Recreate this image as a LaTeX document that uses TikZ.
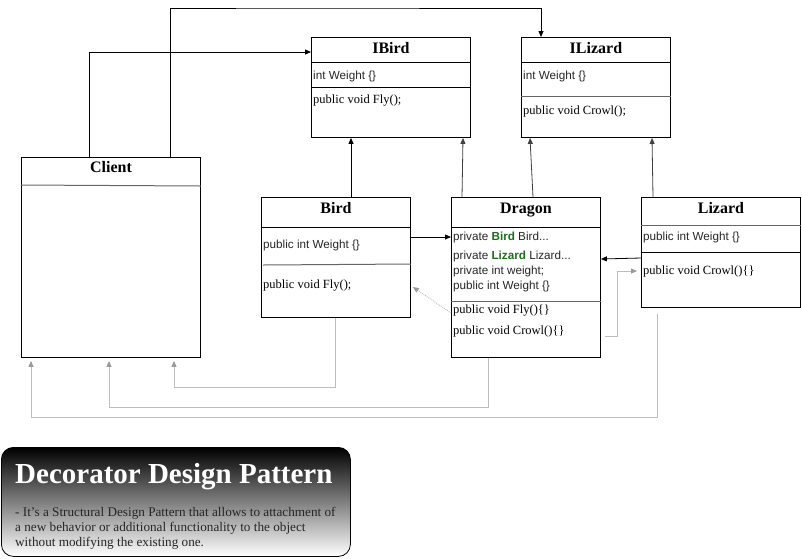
\documentclass[tikz,border=0pt]{standalone}
\usepackage{fontspec}
\setmainfont{Liberation Serif}
\newfontfamily\sansf{Liberation Sans}
\usetikzlibrary{arrows.meta,calc}
\definecolor{dgreen}{HTML}{1B6E1B}
\definecolor{lgray}{HTML}{BDBDBD}
\definecolor{agray}{HTML}{9A9A9A}
\begin{document}
\begin{tikzpicture}[x=1pt,y=-1pt,
  cls/.style={draw, line width=0.9pt, anchor=north west, inner sep=0pt},
  ttl/.style={font=\bfseries\fontsize{16}{18}\selectfont, anchor=base, inner sep=0pt},
  sf/.style={font=\sansf\fontsize{11.7}{13}\selectfont, anchor=west, inner sep=0pt, text=black!85},
  mf/.style={font=\fontsize{12.5}{14}\selectfont, anchor=west, inner sep=0pt},
  sep/.style={line width=0.8pt},
  gsep/.style={line width=1pt, draw=black!60},
  arr/.style={-{Triangle[length=6pt,width=5pt]}, line width=0.8pt},
  garr/.style={-{Triangle[length=6pt,width=5pt,color=agray]}, line width=0.9pt, draw=lgray},
]
\useasboundingbox (0,0) rectangle (802,558);

% IBird
\node[cls, minimum width=159pt, minimum height=100pt] (ibird) at (311,37) {};
\node[ttl] at ($(ibird.north)+(0,16)$) {IBird};
\draw[sep] ($(ibird.north west)+(0,25)$) -- ($(ibird.north east)+(0,25)$);
\draw[sep] ($(ibird.north west)+(0,50)$) -- ($(ibird.north east)+(0,50)$);
\node[sf] at ($(ibird.north west)+(2,39)$) {int Weight \{\}};
\node[mf] at ($(ibird.north west)+(2,64)$) {public void Fly();};

% ILizard
\node[cls, minimum width=149pt, minimum height=100pt] (ilizard) at (521,37) {};
\node[ttl] at ($(ilizard.north)+(0,16)$) {ILizard};
\draw[sep] ($(ilizard.north west)+(0,25)$) -- ($(ilizard.north east)+(0,25)$);
\draw[gsep] ($(ilizard.north west)+(0,59)$) -- ($(ilizard.north east)+(0,59)$);
\node[sf] at ($(ilizard.north west)+(2,39)$) {int Weight \{\}};
\node[mf] at ($(ilizard.north west)+(2,74)$) {public void Crowl();};

% Client
\node[cls, minimum width=179pt, minimum height=200pt] (client) at (21,157) {};
\node[ttl] at ($(client.north)+(0,15)$) {Client};
\draw[gsep] ($(client.north west)+(0,28)$) -- ($(client.north east)+(0,29)$);

% Bird
\node[cls, minimum width=149pt, minimum height=120pt] (bird) at (261,197) {};
\node[ttl] at ($(bird.north)+(0,16)$) {Bird};
\draw[sep] ($(bird.north west)+(0,30)$) -- ($(bird.north east)+(0,30)$);
\draw[gsep] ($(bird.north west)+(2,68)$) -- ($(bird.north east)+(0,67)$);
\node[sf] at ($(bird.north west)+(2,48)$) {public int Weight \{\}};
\node[mf] at ($(bird.north west)+(2,89)$) {public void Fly();};

% Dragon
\node[cls, minimum width=149pt, minimum height=160pt] (dragon) at (451,197) {};
\node[ttl] at ($(dragon.north)+(0,16)$) {Dragon};
\draw[sep] ($(dragon.north west)+(0,30)$) -- ($(dragon.north east)+(0,30)$);
\draw[gsep] ($(dragon.north west)+(0,104)$) -- ($(dragon.north east)+(0,104)$);
\node[sf] at ($(dragon.north west)+(2,40)$) {private \textcolor{dgreen}{\bfseries Bird} Bird...};
\node[sf] at ($(dragon.north west)+(2,59)$) {private \textcolor{dgreen}{\bfseries Lizard} Lizard...};
\node[sf] at ($(dragon.north west)+(2,74)$) {private int weight;};
\node[sf] at ($(dragon.north west)+(2,89)$) {public int Weight \{\}};
\node[mf] at ($(dragon.north west)+(2,114)$) {public void Fly()\{\}};
\node[mf] at ($(dragon.north west)+(2,134)$) {public void Crowl()\{\}};

% Lizard
\node[cls, minimum width=159pt, minimum height=110pt] (lizard) at (641,197) {};
\node[ttl] at ($(lizard.north)+(0,16)$) {Lizard};
\draw[gsep] ($(lizard.north west)+(0,28)$) -- ($(lizard.north east)+(0,28)$);
\draw[sep] ($(lizard.north west)+(0,55)$) -- ($(lizard.north east)+(0,55)$);
\node[sf] at ($(lizard.north west)+(2,40)$) {public int Weight \{\}};
\node[mf] at ($(lizard.north west)+(2,74)$) {public void Crowl()\{\}};

% black connectors
\draw[arr] ([xshift=68pt]client.north west) |- ([yshift=-15pt]ibird.north west);
\coordinate (topbend) at (300,8);
\draw[arr] ([xshift=149pt]client.north west) |- (topbend) -| ([xshift=20pt]ilizard.north west);
\draw[arr] ([xshift=90pt]bird.north west) -- ([xshift=40pt]ibird.south west);
\draw[arr, draw=black!75] ([xshift=11pt]dragon.north west) -- ([xshift=152pt]ibird.south west);
\draw[arr, draw=black!75] ([xshift=82pt]dragon.north west) -- ([xshift=9pt]ilizard.south west);
\draw[arr, draw=black!75] ([xshift=12pt]lizard.north west) -- ([xshift=131pt]ilizard.south west);
\draw[arr] ([yshift=-40pt]bird.north east) -- ([yshift=-40pt]dragon.north west);
\draw[arr] ([yshift=-61pt]lizard.north west) -- ([yshift=-62pt]dragon.north east);

% gray connectors
\draw[garr, densely dotted] ([yshift=-116pt]dragon.north west) -- ([xshift=2pt,yshift=-90pt]bird.north east);
\draw[garr] ([xshift=4pt,yshift=-139pt]dragon.north east) -- ++(13,0) |- ([xshift=-4pt,yshift=-74pt]lizard.north west);
\draw[garr] ([xshift=74pt]bird.south west) -- ++(0,70) -| ([xshift=153pt,yshift=-3pt]client.south west);
\draw[garr] ([xshift=37pt]dragon.south west) -- ++(0,50) -| ([xshift=88pt,yshift=-3pt]client.south west);
\draw[garr] ([xshift=16pt,yshift=-6pt]lizard.south west) -- ++(0,104) -| ([xshift=10pt,yshift=-3pt]client.south west);

% legend
\node[draw, line width=0.8pt, rounded corners=12pt, anchor=north west, minimum width=349pt, minimum height=109pt, top color=black, bottom color=white, inner sep=0pt] (legend) at (1,447) {};
\node[anchor=west, inner sep=0pt, text=white, font=\bfseries\fontsize{29}{31}\selectfont] (ltitle) at ($(legend.north west)+(14,30)$) {Decorator Design Pattern};
\node[anchor=north west, inner sep=0pt, text=black!85, font=\fontsize{13.2}{15}\selectfont, align=left] (ltext) at ($(legend.north west)+(14,60)$) {- It's a Structural Design Pattern that allows to attachment of\\a new behavior or additional functionality to the object\\without modifying the existing one.};
\end{tikzpicture}
\end{document}
